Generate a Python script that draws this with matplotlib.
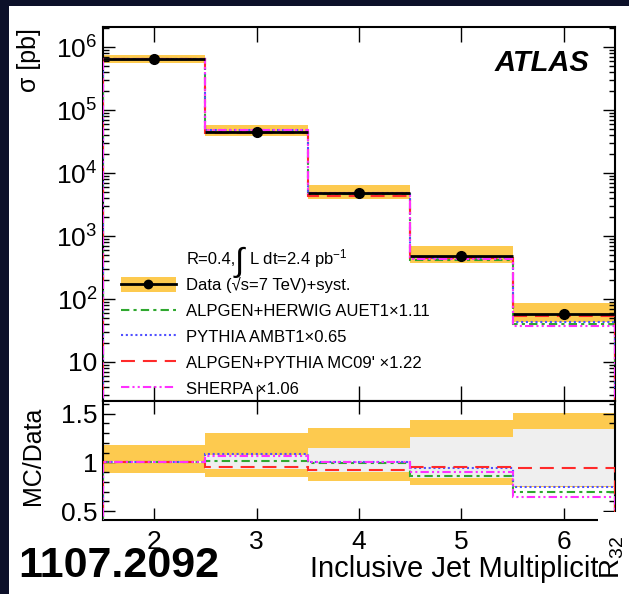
import numpy as np
import matplotlib.pyplot as plt
from matplotlib.lines import Line2D
from matplotlib.patches import Patch, Rectangle
from matplotlib.ticker import FixedLocator, LogLocator, MultipleLocator, NullFormatter

plt.rcParams['font.family'] = ['Liberation Sans', 'DejaVu Sans']
plt.rcParams['mathtext.fontset'] = 'custom'
plt.rcParams['mathtext.rm'] = 'Liberation Sans'
plt.rcParams['mathtext.it'] = 'Liberation Sans:italic'
plt.rcParams['mathtext.bf'] = 'Liberation Sans:bold'

# inclusive jet multiplicity bins
njet = np.array([2, 3, 4, 5, 6])
edges = np.array([1.5, 2.5, 3.5, 4.5, 5.5, 6.5])

# measured cross sections [pb]
sigma = np.array([6.4e5, 4.5e4, 4.8e3, 4.8e2, 58.0])

# relative uncertainty bands (ratio to data)
syst_up = np.array([1.18, 1.30, 1.35, 1.44, 1.51])
syst_dn = np.array([0.89, 0.85, 0.81, 0.77, 0.745])
inner_up = np.array([1.01, 1.08, 1.15, 1.26, 1.34])
inner_dn = np.array([0.99, 0.93, 0.90, 0.84, 0.76])

# MC / data
r_alpgen_herwig = np.array([1.0, 1.01, 0.99, 0.86, 0.70])
r_pythia = np.array([1.0, 1.09, 1.00, 0.94, 0.745])
r_alpgen_pythia = np.array([1.0, 0.95, 0.92, 0.95, 0.94])
r_sherpa = np.array([1.0, 1.07, 1.00, 0.90, 0.65])

yellow = '#fdca4f'
grey = '#efefef'

mc_styles = [
    ('ALPGEN+HERWIG AUET1\u00d71.11', r_alpgen_herwig, '#2fa82f', (0, (4, 2, 1.5, 2))),
    ('PYTHIA AMBT1\u00d70.65', r_pythia, '#5050ff', (0, (1, 1.3))),
    ("ALPGEN+PYTHIA MC09' \u00d71.22", r_alpgen_pythia, '#ff2a2a', (0, (6.7, 3.8))),
    ('SHERPA \u00d71.06', r_sherpa, '#ff30ff', (0, (4, 1.5, 1, 1.5, 1, 1.5))),
]

W, H = 629, 594


def fx(px):
    return px / W


def fy(py):
    return 1 - py / H


fig = plt.figure(figsize=(6.29, 5.94), dpi=100)
fig.patch.set_facecolor('#0c1029')
fig.add_artist(Rectangle((fx(9), 0), 1, fy(6), transform=fig.transFigure,
                         facecolor='white', edgecolor='none', zorder=-5))

ax = fig.add_axes([fx(103), fy(401), 512 / W, 374 / H])
axr = fig.add_axes([fx(103), fy(520), 512 / W, 119 / H])

# ---- cross section panel ----
ax.bar(njet, sigma * (syst_up - syst_dn), bottom=sigma * syst_dn, width=1.0,
       color=yellow, edgecolor='none', zorder=1)
for label, r, col, ls in mc_styles:
    ax.stairs(sigma * r, edges, color=col, linestyle=ls, lw=1.5, zorder=3)
ax.errorbar(njet, sigma, xerr=0.5, fmt='o', color='black', ms=7, lw=2,
            capsize=0, zorder=5)

ax.set_yscale('log')
ax.set_ylim(2.4, 2.1e6)
ax.set_xlim(1.5, 6.5)
ax.set_xticks(njet)
ax.set_xticklabels([])
ax.yaxis.set_major_locator(FixedLocator([10, 1e2, 1e3, 1e4, 1e5, 1e6]))
ax.set_yticklabels(['10', '$10^2$', '$10^3$', '$10^4$', '$10^5$', '$10^6$'])
ax.yaxis.set_minor_locator(LogLocator(base=10, subs=np.arange(2, 10)))
ax.yaxis.set_minor_formatter(NullFormatter())
ax.tick_params(which='both', direction='in', top=True, right=True, width=1)
ax.tick_params(axis='y', which='major', length=8.5, labelsize=19, pad=4)
ax.tick_params(axis='y', which='minor', length=4.5)
ax.tick_params(axis='x', which='major', length=11)

ax.text(0.95, 0.905, 'ATLAS', transform=ax.transAxes, ha='right', va='center',
        fontsize=21, fontweight='bold', fontstyle='italic')

# luminosity line with a tall integral sign
fig.text(fx(187), fy(259), 'R=0.4,', ha='left', va='center', fontsize=12)
fig.text(fx(235), fy(262), '\u222b', ha='left', va='center', fontsize=24)
fig.text(fx(249), fy(259), r'L dt=2.4 pb$^{-1}$', ha='left', va='center', fontsize=12)

handles = [(Patch(facecolor=yellow, edgecolor='none'),
            Line2D([], [], color='black', lw=2, marker='o', ms=6))]
labels = ['Data (\u221as=7 TeV)+syst.']
for label, r, col, ls in mc_styles:
    handles.append(Line2D([], [], color=col, linestyle=ls, lw=1.5))
    labels.append(label)
ax.legend(handles, labels, loc='upper left', bbox_to_anchor=(0.035, 0.331),
          frameon=False, fontsize=12, handlelength=3.3, handletextpad=0.6,
          labelspacing=0.58, borderpad=0, borderaxespad=0, handleheight=1.0)

for s in ax.spines.values():
    s.set_linewidth(1.5)

# ---- ratio panel ----
axr.bar(njet, syst_up - syst_dn, bottom=syst_dn, width=1.0, color=yellow,
        edgecolor='none', zorder=1)
axr.bar(njet, inner_up - inner_dn, bottom=inner_dn, width=1.0, color=grey,
        edgecolor='none', zorder=2)
for label, r, col, ls in mc_styles:
    axr.stairs(r, edges, color=col, linestyle=ls, lw=1.5, zorder=3)

axr.set_xlim(1.5, 6.5)
axr.set_ylim(0.41, 1.63)
axr.set_xticks(njet)
axr.set_xticklabels([str(n) for n in njet])
axr.set_yticks([0.5, 1, 1.5])
axr.set_yticklabels(['0.5', '1', '1.5'])
axr.yaxis.set_minor_locator(MultipleLocator(0.1))
axr.tick_params(which='both', direction='in', top=True, right=True, width=1)
axr.tick_params(axis='y', which='major', length=8.5, labelsize=19, pad=4)
axr.tick_params(axis='y', which='minor', length=4.5)
axr.tick_params(axis='x', which='major', length=9, labelsize=19, pad=7)
for s in axr.spines.values():
    s.set_linewidth(1.5)

fig.text(fx(29), fy(28), '\u03c3 [pb]', rotation=90, ha='center', va='top',
         fontsize=18)
fig.text(fx(33), fy(456), 'MC/Data', rotation=90, ha='center', va='center',
         fontsize=18)
fig.text(fx(310), fy(569), 'Inclusive Jet Multiplicity', ha='left',
         va='center', fontsize=21)

# white block over the lower right corner with the rotated R32 label
fig.add_artist(Rectangle((fx(598), 0), 1, fy(512), transform=fig.transFigure,
                         facecolor='white', edgecolor='none', zorder=8))
fig.text(fx(612), fy(558), r'R$_{32}$', rotation=90, ha='center',
         va='center', fontsize=20, zorder=9)

fig.text(fx(18), fy(566), '1107.2092', ha='left', va='center',
         fontsize=31, fontweight='bold', zorder=10)

fig.savefig('out.png', dpi=100, facecolor=fig.get_facecolor())
